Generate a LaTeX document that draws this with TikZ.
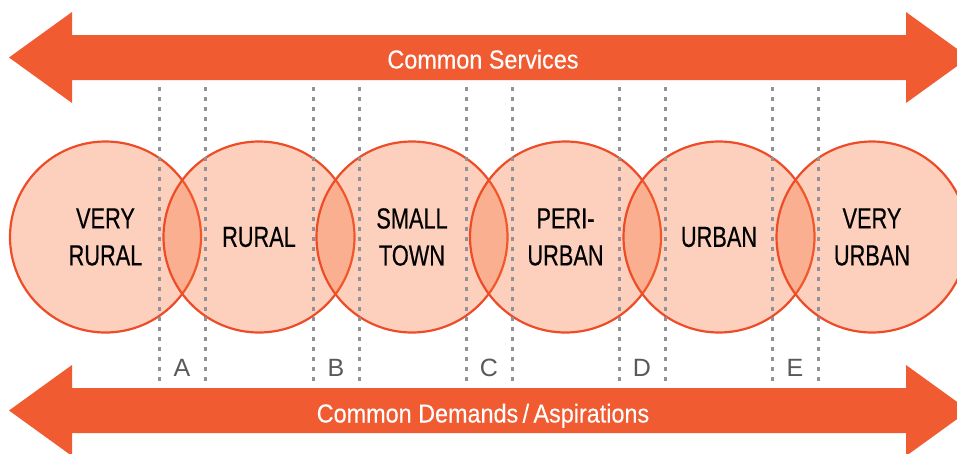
\documentclass[tikz,border=0pt]{standalone}
\usepackage{fontspec}
\setmainfont{Liberation Sans}
\newfontfamily\ringfont{Liberation Sans}[FakeStretch=0.75, FakeBold=0.4]
\newfontfamily\bandfont{Liberation Sans}[FakeStretch=0.9, FakeBold=0.2]
\usepackage{tikz}
\usetikzlibrary{arrows.meta, positioning}
\usepackage{xcolor}
\definecolor{bandorange}{RGB}{241, 91, 49}
\definecolor{ringfill}{RGB}{245, 112, 52}
\definecolor{ringred}{RGB}{238, 76, 40}
\definecolor{zonegray}{RGB}{145, 146, 149}
\definecolor{lettergray}{RGB}{88, 89, 91}

\tikzset{
  ring/.style={circle, draw=ringred, line width=2.2pt, fill=ringfill,
    fill opacity=0.33, text opacity=1, minimum size=191pt, inner sep=0pt,
    align=center, font=\ringfont\fontsize{29}{37}\selectfont},
  bandtext/.style={text=white, anchor=base, inner sep=0pt,
    font=\bandfont\fontsize{26}{30}\selectfont},
  zoneline/.style={zonegray, line width=3pt, dash pattern=on 4.3pt off 5.7pt},
  zoneletter/.style={text=lettergray, anchor=base, inner sep=0pt,
    font=\fontsize{25}{30}\selectfont}
}

\begin{document}
\begin{tikzpicture}[x=1pt, y=-1pt]
        \useasboundingbox (0,0) rectangle (957,453);
        \clip (0,0) rectangle (957,453);

        % Top band
        \fill[bandorange] (9,57.5) -- (72,12) -- (72,35) -- (906,35) -- (906,12)
          -- (969,57.5) -- (906,103) -- (906,80) -- (72,80) -- (72,103) -- cycle;
        \node[bandtext] (services) at (483,68.5) {Common Services};

        % Bottom band
        \fill[bandorange] (9,410.5) -- (72,365) -- (72,388) -- (906,388) -- (906,365)
          -- (969,410.5) -- (906,456) -- (906,433) -- (72,433) -- (72,456) -- cycle;
        \node[bandtext] (demands) at (483,422.5) {Common Demands\,/\,Aspirations};

        % Settlement types
        \node[ring] (veryrural) at (105.5,237) {VERY\\RURAL};
        \node[ring] (rural) at (259,237) {RURAL};
        \node[ring] (smalltown) at (412,237) {SMALL\\TOWN};
        \node[ring] (periurban) at (565.5,237) {PERI-\\URBAN};
        \node[ring] (urban) at (719,237) {URBAN};
        \node[ring] (veryurban) at (872,237) {VERY\\URBAN};

        % Transition zones
        \draw[zoneline] (159,87) -- (159,382) (205,87) -- (205,382);
        \node[zoneletter] (zoneA) at (182,376.5) {A};
        \draw[zoneline] (313,87) -- (313,382) (359,87) -- (359,382);
        \node[zoneletter] (zoneB) at (336,376.5) {B};
        \draw[zoneline] (466,87) -- (466,382) (512,87) -- (512,382);
        \node[zoneletter] (zoneC) at (489,376.5) {C};
        \draw[zoneline] (619,87) -- (619,382) (665,87) -- (665,382);
        \node[zoneletter] (zoneD) at (642,376.5) {D};
        \draw[zoneline] (772,87) -- (772,382) (818,87) -- (818,382);
        \node[zoneletter] (zoneE) at (795,376.5) {E};
      \end{tikzpicture}
\end{document}
